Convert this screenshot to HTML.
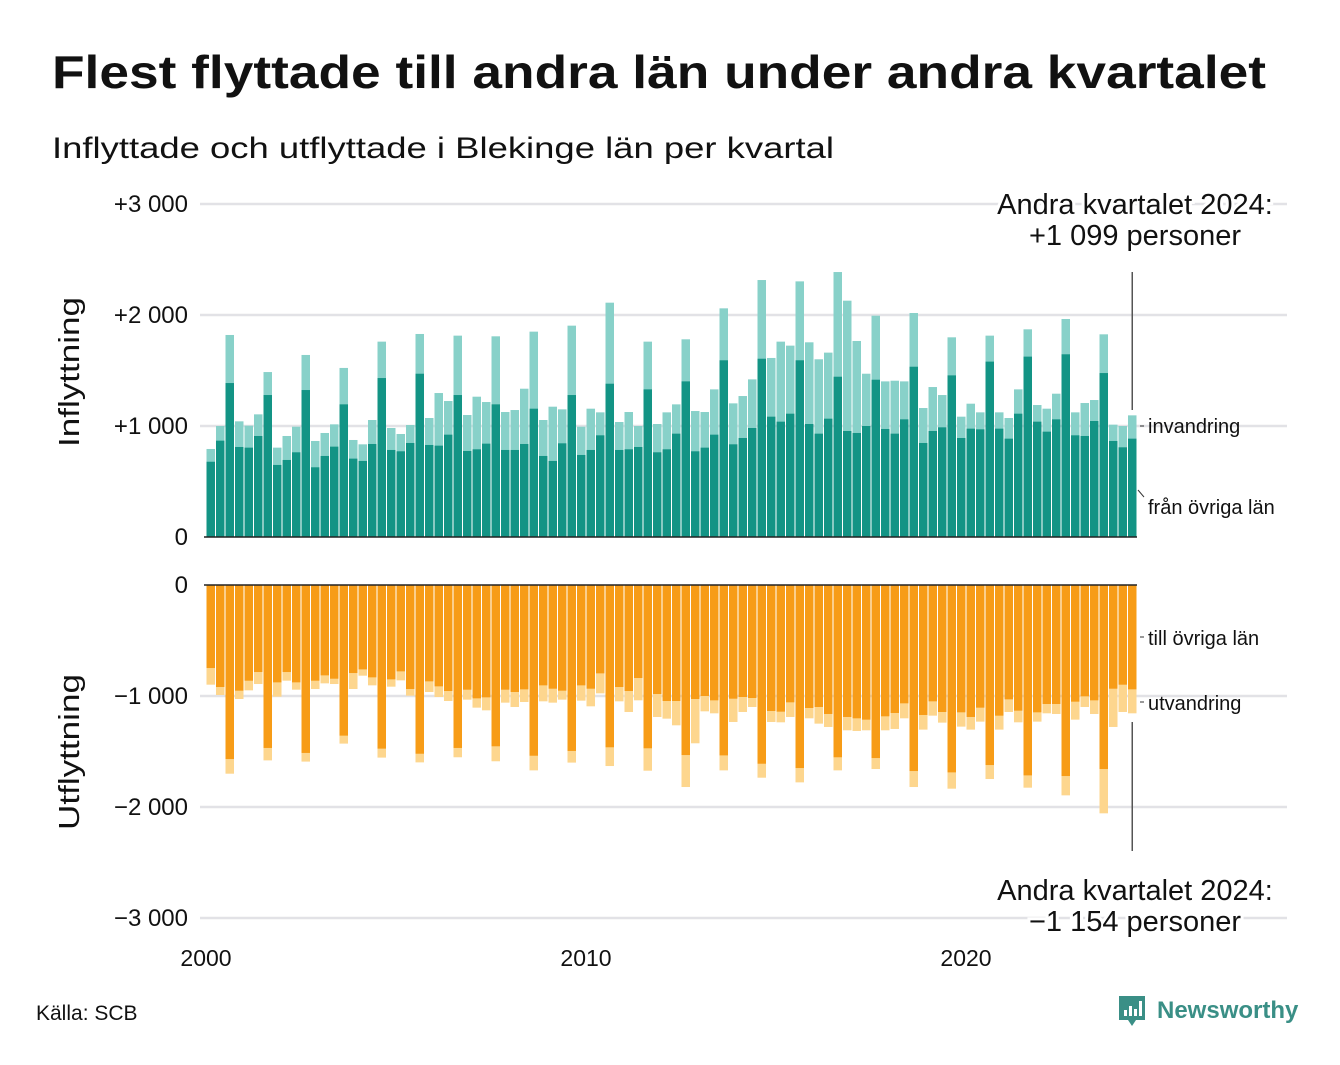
<!DOCTYPE html>
<html><head><meta charset="utf-8"><style>
body{margin:0;background:#fff;}
svg text{font-family:"Liberation Sans","DejaVu Sans",sans-serif;}
</style></head><body>
<svg id="chart" width="1340" height="1060" xmlns="http://www.w3.org/2000/svg">
<text x="52" y="88" font-size="46" font-weight="bold" fill="#111" textLength="1214" lengthAdjust="spacingAndGlyphs">Flest flyttade till andra län under andra kvartalet</text>
<text x="52" y="158" font-size="30" fill="#111" textLength="782" lengthAdjust="spacingAndGlyphs">Inflyttade och utflyttade i Blekinge län per kvartal</text>
<g id="grid"></g>
<g id="bars"></g>
<g id="annot"></g>
<text x="36" y="1020" font-size="21" fill="#111">Källa: SCB</text>
<g>
<path d="M1119 996 h26 v24 h-9 l-4 6 l-4 -6 h-9 z" fill="#3a8f86"/>
<rect x="1124" y="1010" width="3" height="6" fill="#fff"/><rect x="1129" y="1006" width="3" height="10" fill="#fff"/><rect x="1134" y="1009" width="3" height="7" fill="#fff"/><rect x="1139" y="1001" width="3" height="15" fill="#fff"/>
<text x="1157" y="1018" font-size="24" font-weight="bold" fill="#3a8f86">Newsworthy</text>
</g>
</svg>
<script>
const years=[2000,2010,2020];
const yTicksIn=[0,1000,2000,3000];
const yTickLabelsIn=["0","+1 000","+2 000","+3 000"];
const yTicksOut=[0,-1000,-2000,-3000];
const yTickLabelsOut=["0","\u22121 000","\u22122 000","\u22123 000"];
const inFromCounties=[678,868,1387,811,805,910,1279,649,694,763,1324,628,730,814,1195,706,685,838,1432,784,772,847,1471,829,823,922,1279,775,790,841,1195,784,784,838,1156,730,685,844,1279,739,784,916,1381,784,790,811,1330,763,790,931,1402,772,805,922,1592,835,892,982,1606,1084,1039,1111,1592,1018,931,1066,1444,955,937,1000,1417,973,931,1060,1534,847,955,988,1456,892,976,970,1580,976,886,1111,1625,1039,949,1060,1646,916,910,1045,1477,865,808,886];
const inTotal=[793,1000,1820,1042,1003,1105,1486,805,910,994,1640,865,937,1015,1523,874,835,1054,1760,982,928,1009,1829,1072,1297,1225,1814,1099,1264,1216,1808,1126,1144,1336,1850,1054,1174,1150,1904,994,1156,1123,2111,1036,1126,1000,1760,1018,1123,1195,1781,1135,1126,1330,2060,1204,1270,1420,2315,1613,1760,1724,2303,1754,1601,1661,2387,2129,1766,1471,1994,1402,1408,1402,2018,1162,1351,1279,1799,1084,1201,1123,1814,1123,1072,1330,1871,1189,1156,1291,1964,1123,1207,1234,1826,1012,1000,1096];
const outToCounties=[748,919,1568,952,862,784,1468,877,784,877,1513,862,814,844,1357,793,760,832,1474,850,778,937,1520,868,913,955,1468,943,1021,1012,1453,943,964,940,1538,904,934,952,1495,904,934,796,1462,919,955,838,1471,982,1045,1045,1532,1027,1000,1039,1535,1024,1009,1018,1610,1135,1141,1057,1649,1108,1099,1162,1552,1189,1201,1213,1559,1183,1153,1066,1676,1171,1048,1144,1688,1147,1189,1105,1622,1177,1030,1132,1715,1147,1072,1072,1721,1051,1003,1039,1658,934,898,940];
const outTotal=[898,991,1700,1027,949,892,1580,1006,862,943,1591,937,886,892,1429,937,817,904,1555,916,859,997,1598,964,1009,1045,1552,1033,1105,1129,1588,1060,1099,1054,1670,1048,1060,1033,1600,1042,1093,976,1631,1048,1144,1039,1673,1189,1204,1264,1820,1426,1138,1156,1670,1234,1144,1099,1736,1234,1237,1189,1778,1201,1249,1279,1670,1309,1315,1309,1658,1309,1297,1201,1820,1303,1177,1240,1835,1276,1303,1231,1748,1303,1144,1237,1826,1231,1156,1162,1895,1213,1099,1162,2057,1279,1144,1156];

const NS="http://www.w3.org/2000/svg";
function mk(tag,attrs,parent,txt){const e=document.createElementNS(NS,tag);for(const k in attrs)e.setAttribute(k,attrs[k]);if(txt!=null)e.textContent=txt;parent.appendChild(e);return e;}
const x=t=>206+38*(t-2000);
const yIn=v=>537-v*0.111;
const yOut=v=>585-v*0.111;
const grid=document.getElementById('grid'),bars=document.getElementById('bars'),annot=document.getElementById('annot');
yTicksIn.forEach((v,i)=>{
 if(v!==0){const l=mk('line',{x1:200,x2:1287,y1:yIn(v),y2:yIn(v),stroke:'#e2e2e6','stroke-width':2.5},grid);
 
 }
 const t=mk('text',{x:188,y:yIn(v)+8,'font-size':24,'text-anchor':'end',fill:'#111'},grid,yTickLabelsIn[i]);
 
 
});
yTicksOut.forEach((v,i)=>{
 if(v!==0){const l=mk('line',{x1:200,x2:1287,y1:yOut(v),y2:yOut(v),stroke:'#e2e2e6','stroke-width':2.5},grid);
 
 }
 const t=mk('text',{x:188,y:yOut(v)+8,'font-size':24,'text-anchor':'end',fill:'#111'},grid,yTickLabelsOut[i]);
 
 
});
years.forEach(yr=>{
 const t=mk('text',{x:x(yr),y:966,'font-size':23,'text-anchor':'middle',fill:'#111'},grid,String(yr));
 
 
});
const a1=mk('text',{transform:'translate(79,372) rotate(-90)','font-size':29,'text-anchor':'middle',fill:'#111',textLength:150,lengthAdjust:'spacingAndGlyphs'},grid,'Inflyttning');


const a2=mk('text',{transform:'translate(79,752) rotate(-90)','font-size':29,'text-anchor':'middle',fill:'#111',textLength:156,lengthAdjust:'spacingAndGlyphs'},grid,'Utflyttning');



const bw=8.5;
inTotal.forEach((tot,i)=>{
 const t=2000+i/4, bx=x(t)+0.5;
 const b1=mk('rect',{x:bx,y:yIn(tot),width:bw,height:yIn(0)-yIn(tot),fill:'#88d1c9'},bars);
 
 
 const d=inFromCounties[i];
 const b2=mk('rect',{x:bx,y:yIn(d),width:bw,height:yIn(0)-yIn(d),fill:'#139485'},bars);
 
 
 const ot=outTotal[i], od=outToCounties[i];
 const b3=mk('rect',{x:bx,y:yOut(0),width:bw,height:yOut(-ot)-yOut(0),fill:'#fdd68e'},bars);
 
 
 const b4=mk('rect',{x:bx,y:yOut(0),width:bw,height:yOut(-od)-yOut(0),fill:'#f79c17'},bars);
 
 
});
const z1=mk('line',{x1:204,x2:1137,y1:yIn(0),y2:yIn(0),stroke:'#222','stroke-width':1.5},bars);


const z2=mk('line',{x1:204,x2:1137,y1:yOut(0),y2:yOut(0),stroke:'#222','stroke-width':1.5},bars);



const last=inTotal.length-1, lx=x(2000+last/4)+4.75;
mk('line',{x1:lx,x2:lx,y1:272,y2:410,stroke:'#555','stroke-width':1.5},annot);
mk('line',{x1:lx,x2:lx,y1:722,y2:851,stroke:'#555','stroke-width':1.5},annot);
function lab(txt,y,name){const t=mk('text',{x:1148,y:y,'font-size':20,fill:'#111'},annot,txt);}
mk('line',{x1:1140,x2:1144,y1:426,y2:426,stroke:'#333'},annot);
mk('line',{x1:1138,x2:1144,y1:490,y2:497,stroke:'#333'},annot);
mk('line',{x1:1140,x2:1144,y1:637,y2:637,stroke:'#333'},annot);
mk('line',{x1:1140,x2:1144,y1:702,y2:702,stroke:'#333'},annot);
lab('invandring',433,'legend-invandring');
lab('från övriga län',514,'legend-fran-ovriga-lan');
lab('till övriga län',645,'legend-till-ovriga-lan');
lab('utvandring',710,'legend-utvandring');
function big(txt,y,name){const t=mk('text',{x:1135,y:y,'font-size':29,'text-anchor':'middle',fill:'#111',stroke:'#fff','stroke-width':6,'paint-order':'stroke'},annot,txt);}
big('Andra kvartalet 2024:',214,'annotation-in-title');
big('+1 099 personer',245,'annotation-in-value');
big('Andra kvartalet 2024:',900,'annotation-out-title');
big('\u22121 154 personer',931,'annotation-out-value');
</script>
</body></html>
